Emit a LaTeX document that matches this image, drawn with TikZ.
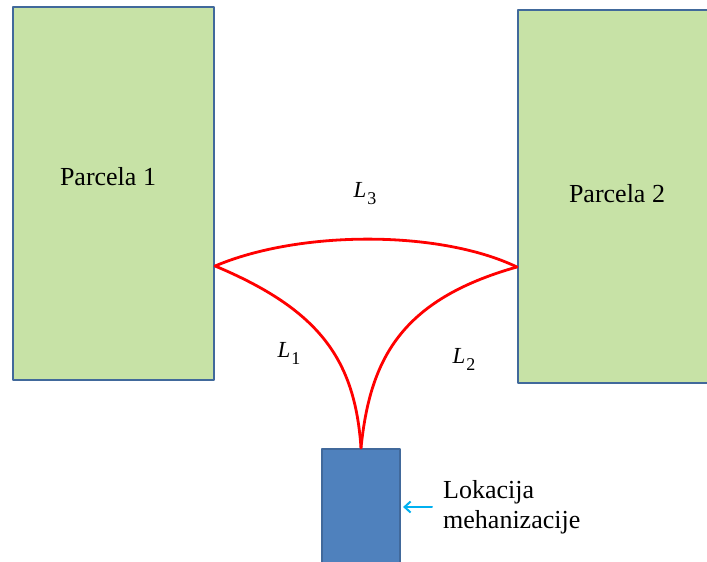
\documentclass[tikz,border=0pt]{standalone}
\usepackage{fontspec}
\setmainfont{Liberation Serif}
\newfontfamily\fieldfont{Liberation Serif}
\usepackage{xcolor}
\definecolor{fieldgreen}{HTML}{C7E2A6}
\definecolor{edgeblue}{HTML}{41699B}
\definecolor{mechblue}{HTML}{4F81BD}
\definecolor{routered}{HTML}{FF0000}
\definecolor{pointcyan}{HTML}{00B0F0}
\usetikzlibrary{arrows.meta,positioning}
\newcommand{\routename}[1]{{\itshape L}\kern1pt\raisebox{-7pt}{\fontsize{18}{18}\selectfont #1}}
\tikzset{
  every picture/.style={line cap=round, line join=round},
  field/.style={draw=edgeblue, fill=fieldgreen, line width=2.2pt, inner sep=0pt},
  machine/.style={draw=edgeblue, fill=mechblue, line width=2.2pt, inner sep=0pt},
  route/.style={routered, line width=2.8pt},
  pointer/.style={pointcyan, line width=2pt, -{Straight Barb[length=6pt,width=11pt]}},
  lbl/.style={font=\fieldfont\fontsize{26}{30}\selectfont, text=black, inner sep=0pt},
  pathlbl/.style={font=\fieldfont\fontsize{23}{26}\selectfont, text=black, inner sep=0pt},
}

\begin{document}
\begin{tikzpicture}[x=1pt, y=-1pt]
\clip (0,0) rectangle (707,562);
% the two fields and the machine yard
\node[field, minimum width=201pt, minimum height=373pt] (parc1) at (113.5,193.5) {};
\node[field, minimum width=197pt, minimum height=373pt] (parc2) at (616.5,196.5) {};
\node[machine, minimum width=78pt, minimum height=126pt] (mech) at (361,512) {};
\node[lbl] (name1) at (108,177) {Parcela 1};
\node[lbl] (name2) at (617,194) {Parcela 2};
% where the routes meet the fields
\coordinate (p1) at (parc1.east |- 0,266);
\coordinate (p2) at (parc2.west |- 0,267);
% the routes
\draw[route] (p1) .. controls (300,230) and (440,230) .. (p2);
\draw[route] (mech.north) .. controls (355,360) and (320,310) .. (p1);
\draw[route] (mech.north) .. controls (370,360) and (400,300) .. (p2);
\node[pathlbl] (l3) at (365,194) {\routename{3}};
\node[pathlbl] (l1) at (289,353) {\routename{1}};
\node[pathlbl] (l2) at (464,359) {\routename{2}};
% label for the machine yard
\node[lbl, align=left, anchor=west] (loc) at (443,507) {Lokacija\\mehanizacije};
\draw[pointer, shorten <=11pt, shorten >=2pt] (loc.west) -- (loc.west -| mech.east);
\end{tikzpicture}
\end{document}
